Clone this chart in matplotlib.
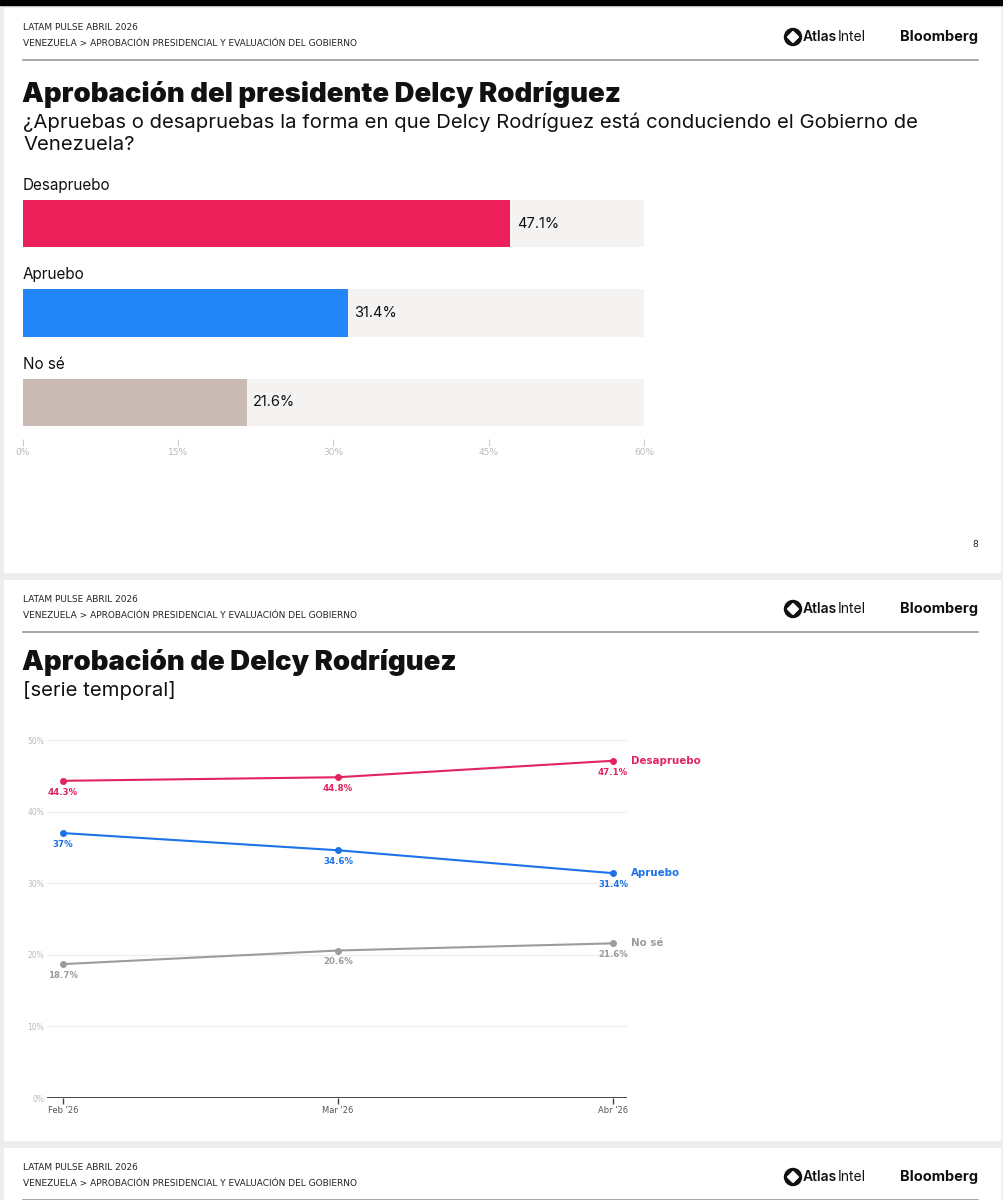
import matplotlib
matplotlib.use("Agg")
import matplotlib.pyplot as plt
from matplotlib.patches import Rectangle, Circle, RegularPolygon

# bar chart data (slide 8)
bar_cats = ["Desapruebo", "Apruebo", "No sé"]
bar_vals = [47.1, 31.4, 21.6]
bar_colors = ["#EB1F5A", "#2386F8", "#C9BAB3"]
bar_ticks = [0, 15, 30, 45, 60]

# time series data (slide 9)
months = ["Feb '26", "Mar '26", "Abr '26"]
desapruebo = [44.3, 44.8, 47.1]
apruebo = [37.0, 34.6, 31.4]
no_se = [18.7, 20.6, 21.6]
line_ticks = [0, 10, 20, 30, 40, 50]

W, H = 1004, 1200
fig = plt.figure(figsize=(W / 100, H / 100), dpi=100)
fig.patch.set_facecolor("#EDEDED")

HEAD_FONT = ["Liberation Sans Narrow", "DejaVu Sans"]
TITLE_FONT = ["Inter", "DejaVu Sans"]
BODY_FONT = ["Inter", "DejaVu Sans"]


def T(x, y, s, **kw):
    return fig.text(x / W, 1 - y / H, s, **kw)


def box(x0, y0, x1, y1):
    return [x0 / W, 1 - y1 / H, (x1 - x0) / W, (y1 - y0) / H]


def rect(x0, y0, x1, y1, color):
    fig.patches.append(Rectangle((x0 / W, 1 - y1 / H), (x1 - x0) / W, (y1 - y0) / H,
                                 transform=fig.transFigure, color=color, zorder=-5))


def header(y):
    T(23, y + 28, "LATAM PULSE ABRIL 2026", fontsize=6.5, family=HEAD_FONT, va="center", color="#222222")
    T(23, y + 44, "VENEZUELA > APROBACIÓN PRESIDENCIAL Y EVALUACIÓN DEL GOBIERNO",
      fontsize=6.5, family=HEAD_FONT, va="center", color="#222222")
    # AtlasIntel logo (pixel-inch coordinates so the circle stays round)
    cx, cy = 793, y + 37
    fig.patches.append(Circle((cx / 100, (H - cy) / 100), 0.085, transform=fig.dpi_scale_trans,
                              color="#111111", zorder=2))
    fig.patches.append(RegularPolygon((cx / 100, (H - cy) / 100), 4, radius=0.055,
                                      transform=fig.dpi_scale_trans, color="white", zorder=3))
    T(803, cy, "Atlas", fontsize=10, family=BODY_FONT, weight="semibold", va="center", color="#111111")
    T(838, cy, "Intel", fontsize=10, family=BODY_FONT, weight="normal", va="center", color="#111111")
    T(978, cy, "Bloomberg", fontsize=10.5, family=BODY_FONT, weight="bold", va="center", ha="right",
      color="#111111")
    fig.add_artist(plt.Line2D([23 / W, 978 / W], [1 - (y + 60) / H] * 2, color="#9A9A9A", lw=1.2))


# page frames
rect(0, 0, W, 5, "#000000")
rect(4, 8, 1000, 572, "white")
rect(4, 580, 1000, 1140, "white")
rect(4, 1148, 1000, 1200, "white")

# ---- slide 1: horizontal bars ----
header(0)
T(22, 95, "Aprobación del presidente Delcy Rodríguez", fontsize=19.8, family=TITLE_FONT,
  weight="black", va="center", color="#111111")
T(23, 122, "¿Apruebas o desapruebas la forma en que Delcy Rodríguez está conduciendo el Gobierno de",
  fontsize=14.6, family=BODY_FONT, va="center", color="#111111")
T(23, 145, "Venezuela?", fontsize=14.6, family=BODY_FONT, va="center", color="#111111")

ax1 = fig.add_axes(box(23, 200, 644, 426))
for s in ax1.spines.values():
    s.set_visible(False)
ax1.spines["bottom"].set_position(("outward", 9))
h = 47 / 89.3
ypos = list(range(len(bar_cats)))
ax1.barh(ypos, [bar_ticks[-1]] * len(ypos), height=h, color="#F4F3F2", zorder=1)
ax1.barh(ypos, bar_vals, height=h, color=bar_colors, zorder=2)
for yy, cat, v in zip(ypos, bar_cats, bar_vals):
    ax1.text(0, yy - h / 2 - 0.08, cat, fontsize=11, family=BODY_FONT, va="bottom", ha="left",
             color="#111111")
    ax1.text(v + 0.6, yy, f"{v}%", fontsize=10.5, family=BODY_FONT, va="center", ha="left",
             color="#111111", zorder=3)
ax1.set_xlim(0, bar_ticks[-1])
ax1.set_ylim(len(ypos) - 1 + h / 2, -h / 2)
ax1.set_yticks([])
ax1.set_xticks(bar_ticks)
ax1.set_xticklabels([f"{t}%" for t in bar_ticks], fontsize=6.5, family=HEAD_FONT, color="#BBBBBB")
ax1.tick_params(axis="x", length=5, width=0.8, color="#CCCCCC", pad=2)
ax1.set_facecolor("none")

T(978, 545, "8", fontsize=6.5, family=HEAD_FONT, va="center", ha="right", color="#222222")

# ---- slide 2: time series ----
header(572)
T(22, 662, "Aprobación de Delcy Rodríguez", fontsize=19.8, family=TITLE_FONT,
  weight="black", va="center", color="#111111")
T(23, 690, "[serie temporal]", fontsize=14.6, family=BODY_FONT, va="center", color="#111111")

ax2 = fig.add_axes(box(47, 740, 627, 1098))
x = list(range(len(months)))
series = [
    ("Desapruebo", desapruebo, "#E2245E"),
    ("Apruebo", apruebo, "#1C72E6"),
    ("No sé", no_se, "#9C9C9C"),
]
for name, vals, c in series:
    ax2.plot(x, vals, color=c, lw=1.5, marker="o", ms=4, zorder=3)
    for xi, v in zip(x, vals):
        ax2.annotate(f"{v:g}%", (xi, v), xytext=(0, -5), textcoords="offset points",
                     ha="center", va="top", fontsize=6.2, weight="bold", family=HEAD_FONT, color=c)
    ax2.annotate(name, (x[-1], vals[-1]), xytext=(13, 0), textcoords="offset points",
                 ha="left", va="center", fontsize=7.4, weight="bold", family=HEAD_FONT, color=c,
                 annotation_clip=False)

ax2.set_xlim(-16 / 275, 2 + 14 / 275)
ax2.set_ylim(0, 50)
ax2.set_yticks(line_ticks)
ax2.set_yticklabels([f"{t}%" for t in line_ticks], fontsize=5.5, family=HEAD_FONT, color="#BBBBBB")
ax2.tick_params(axis="y", length=0, pad=2)
for t in line_ticks[1:]:
    ax2.axhline(t, color="#EEEEEE", lw=0.9, zorder=1)
ax2.axhline(0, color="#444444", lw=1.4, zorder=2)
ax2.set_xticks(x)
ax2.set_xticklabels(months, fontsize=6, family=HEAD_FONT, color="#555555")
ax2.tick_params(axis="x", length=4, width=1, color="#444444", pad=2)
for s in ax2.spines.values():
    s.set_visible(False)
ax2.set_facecolor("none")

# ---- slide 3: header only ----
header(1140)

fig.savefig("out.png", dpi=100, facecolor=fig.get_facecolor())
